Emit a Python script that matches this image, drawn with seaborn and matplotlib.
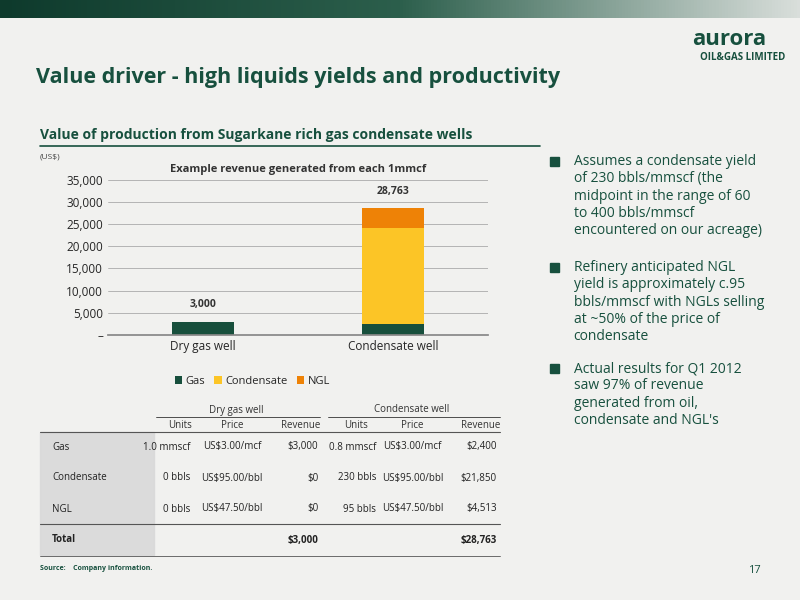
import matplotlib
matplotlib.use("Agg")
import matplotlib.pyplot as plt
import seaborn as sns
import pandas as pd
import numpy as np

wells = ["Dry gas well", "Condensate well"]
gas = [3000, 2400]
condensate = [0, 21850]
ngl = [0, 4513]
totals = ["3,000", "28,763"]
yticks = [0, 5000, 10000, 15000, 20000, 25000, 30000, 35000]
ytick_labels = ["–", "5,000", "10,000", "15,000", "20,000", "25,000", "30,000", "35,000"]

row_names = ["Gas", "Condensate", "NGL", "Total"]
dry_units = ["1.0 mmscf", "0 bbls", "0 bbls", ""]
dry_price = ["US$3.00/mcf", "US$95.00/bbl", "US$47.50/bbl", ""]
dry_rev = ["$3,000", "$0", "$0", "$3,000"]
con_units = ["0.8 mmscf", "230 bbls", "95 bbls", ""]
con_price = ["US$3.00/mcf", "US$95.00/bbl", "US$47.50/bbl", ""]
con_rev = ["$2,400", "$21,850", "$4,513", "$28,763"]

bullets = [
    "Assumes a condensate yield\nof 230 bbls/mmscf (the\nmidpoint in the range of 60\nto 400 bbls/mmscf\nencountered on our acreage)",
    "Refinery anticipated NGL\nyield is approximately c.95\nbbls/mmscf with NGLs selling\nat ~50% of the price of\ncondensate",
    "Actual results for Q1 2012\nsaw 97% of revenue\ngenerated from oil,\ncondensate and NGL's",
]

sns.set_theme(style="white")
plt.rcParams['font.family'] = ['Open Sans', 'DejaVu Sans']
C_GAS, C_CON, C_NGL = "#174f3c", "#fcc526", "#ee8206"
GREEN = "#17503e"

fig = plt.figure(figsize=(8, 6), dpi=100)
fig.patch.set_facecolor("#f1f1ef")
bar = fig.add_axes([0, 1 - 18/600, 1, 18/600])
bar.imshow(np.linspace(0, 1, 256)[None, :], aspect="auto", cmap=matplotlib.colors.LinearSegmentedColormap.from_list("g", ["#0e3a2c", "#2c5f4c", "#d9dedb"]))
bar.axis("off")

fig.text(0.045, 0.862, "Value driver - high liquids yields and productivity", fontsize=15.5, fontweight="bold", color=GREEN)
fig.text(0.865, 0.925, "aurora", fontsize=16, fontweight="bold", color=GREEN)
fig.text(0.875, 0.9, "OIL&GAS LIMITED", fontsize=7, fontweight="bold", color=GREEN)
fig.text(0.05, 0.768, "Value of production from Sugarkane rich gas condensate wells", fontsize=10, fontweight="bold", color=GREEN)
fig.add_artist(plt.Line2D([0.05, 0.675], [0.757, 0.757], color=GREEN, lw=1.2))
fig.text(0.05, 0.735, "(US$)", fontsize=6, color="#444")

df = pd.DataFrame({"well": wells, "Gas": gas, "Condensate": condensate, "NGL": ngl})
ax = fig.add_axes([0.135, 0.442, 0.475, 0.258])
ax.set_facecolor("none")
sns.barplot(data=df, x="well", y="Gas", color=C_GAS, width=0.33, ax=ax, label="Gas", saturation=1, linewidth=0)
b2 = df["Gas"] + df["Condensate"]
ax.bar(range(2), df["Condensate"], bottom=df["Gas"], width=0.33, color=C_CON, label="Condensate", linewidth=0)
ax.bar(range(2), df["NGL"], bottom=b2, width=0.33, color=C_NGL, label="NGL", linewidth=0)
for i, t in enumerate(totals):
    top = gas[i] + condensate[i] + ngl[i]
    ax.text(i, top + 2500, t, ha="center", va="bottom", fontsize=7.5, fontweight="bold", color="#333")
ax.set_ylim(0, 35000)
ax.set_xlim(-0.5, 1.5)
ax.set_yticks(yticks)
ax.set_yticklabels(ytick_labels, fontsize=8.5)
ax.set_xticklabels(wells, fontsize=8.5)
ax.set_xlabel(""); ax.set_ylabel("")
ax.grid(axis="y", color="#aaa", lw=0.6)
for s in ["top", "right", "left"]:
    ax.spines[s].set_visible(False)
ax.spines["bottom"].set_color("#888")
ax.tick_params(length=0)
ax.set_title("Example revenue generated from each 1mmcf", fontsize=8, fontweight="bold", color="#333", pad=6)
ax.legend(loc="upper center", bbox_to_anchor=(0.38, -0.2), ncol=3, frameon=False, fontsize=8, handlelength=0.7, handletextpad=0.3, columnspacing=0.8)

def yf(p): return 1 - p/600
fig.text(0.295, yf(410), "Dry gas well", fontsize=7, ha="center", va="center", color="#333")
fig.text(0.515, yf(410), "Condensate well", fontsize=7, ha="center", va="center", color="#333")
fig.add_artist(plt.Line2D([0.195, 0.4], [yf(417)]*2, color="#333", lw=0.6))
fig.add_artist(plt.Line2D([0.41, 0.625], [yf(417)]*2, color="#333", lw=0.6))
hx = [0.225, 0.29, 0.4, 0.445, 0.515, 0.625]
for x, h in zip(hx, ["Units", "Price", "Revenue"]*2):
    fig.text(x, yf(425), h, fontsize=7, ha="right" if h == "Revenue" else "center", va="center", color="#333")
fig.add_artist(matplotlib.patches.Rectangle((0.05, yf(555)), 0.143, yf(432)-yf(555), transform=fig.transFigure, color="#d9d9d9", alpha=0.9))
fig.add_artist(plt.Line2D([0.05, 0.625], [yf(432)]*2, color="#555", lw=0.8))
ys = [447, 478, 509, 540]
xs = [0.238, 0.29, 0.398, 0.47, 0.516, 0.621]
has = ["right", "center", "right", "right", "center", "right"]
for r, y in enumerate(ys):
    w = "bold" if r == 3 else "normal"
    fig.text(0.065, yf(y), row_names[r], fontsize=7, va="center", fontweight=w, color="#222")
    vals = [dry_units[r], dry_price[r], dry_rev[r], con_units[r], con_price[r], con_rev[r]]
    for x, v, ha in zip(xs, vals, has):
        fig.text(x, yf(y), v, fontsize=7, ha=ha, va="center", fontweight=w, color="#222")
fig.add_artist(plt.Line2D([0.05, 0.625], [yf(524)]*2, color="#555", lw=0.8))
fig.add_artist(plt.Line2D([0.05, 0.625], [yf(556)]*2, color="#555", lw=0.6))

fig.text(0.05, yf(570), "Source:    Company information.", fontsize=5, fontweight="bold", color=GREEN)
fig.text(0.935, yf(573), "17", fontsize=8, color=GREEN)

by = [162, 268, 369]
for y, t in zip(by, bullets):
    fig.add_artist(matplotlib.patches.Rectangle((0.688, yf(y) - 0.006), 0.011, 0.015, transform=fig.transFigure, color=GREEN))
    fig.text(0.717, yf(y) + 0.013, t, fontsize=10, va="top", color=GREEN, linespacing=1.2)

fig.savefig("out.png", dpi=100, facecolor=fig.get_facecolor())
